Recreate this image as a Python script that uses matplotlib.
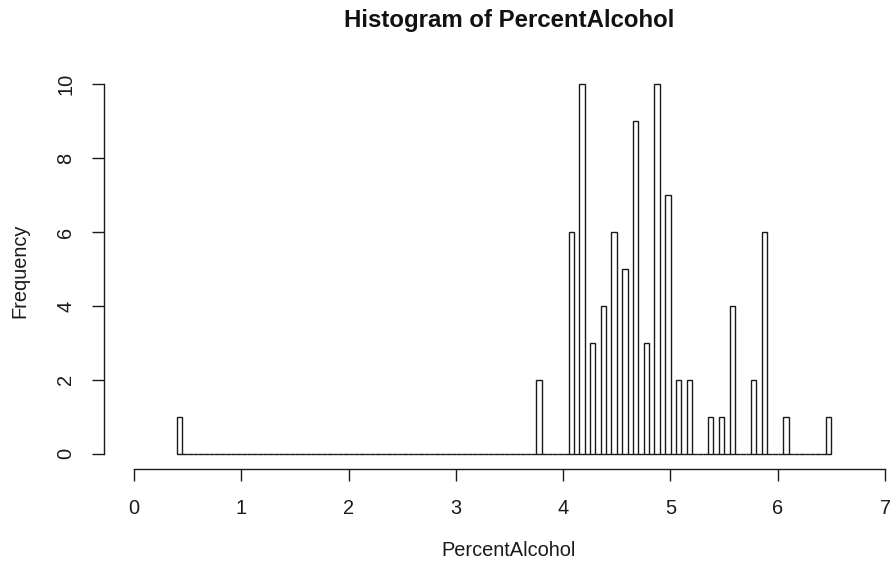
import numpy as np
import matplotlib
matplotlib.use("Agg")
import matplotlib.pyplot as plt

plt.rcParams['font.family'] = ['Liberation Sans', 'DejaVu Sans']

# Histogram breaks (bin width 0.05 from 0.40 to 6.50)
break_lo = 0.40
break_hi = 6.50
bin_width = 0.05
# Non-empty bins: left edge and count
bin_starts = [0.40, 3.75, 4.05, 4.15, 4.25, 4.35, 4.45, 4.55, 4.65, 4.75,
              4.85, 4.95, 5.05, 5.15, 5.35, 5.45, 5.55, 5.75, 5.85, 6.05, 6.45]
counts = [1, 2, 6, 10, 3, 4, 6, 5, 9, 3,
          10, 7, 2, 2, 1, 1, 4, 2, 6, 1, 1]
x_ticks = [0, 1, 2, 3, 4, 5, 6, 7]
y_ticks = [0, 2, 4, 6, 8, 10]

n_bins = int(round((break_hi - break_lo) / bin_width))
edges = break_lo + bin_width * np.arange(n_bins)
heights = np.zeros(n_bins)
for s, c in zip(bin_starts, counts):
    heights[int(round((s - break_lo) / bin_width))] = c

W, H = 890, 568
fig = plt.figure(figsize=(W / 100, H / 100), dpi=100)
L, R, T, B = 104, 890, 69.5, 468.5
ax = fig.add_axes([L / W, 1 - B / H, (R - L) / W, (B - T) / H])

ax.bar(edges, heights, width=bin_width, align='edge', fill=False,
       edgecolor='#1a1a1a', linewidth=1.0)

px_per_unit = 107.3
x0_px = 134
ax.set_xlim((L - x0_px) / px_per_unit, (R - x0_px) / px_per_unit)
ax.set_ylim(-0.4, 10.4)

for s in ['top', 'right']:
    ax.spines[s].set_visible(False)
ax.spines['left'].set_bounds(0, 10)
ax.spines['bottom'].set_bounds(0, 7)
for s in ['left', 'bottom']:
    ax.spines[s].set_linewidth(1.0)
    ax.spines[s].set_color('#1a1a1a')

ax.set_xticks(x_ticks)
ax.set_yticks(y_ticks)
ax.tick_params(axis='both', length=8.6, width=1.0, color='#1a1a1a',
               labelsize=14.4, labelcolor='#1a1a1a')
ax.tick_params(axis='x', pad=13)
ax.tick_params(axis='y', pad=12.2)
for lab in ax.get_yticklabels():
    lab.set_rotation(90)
    lab.set_verticalalignment('center')
    lab.set_horizontalalignment('right')

fig.text(509 / W, 1 - 21 / H, 'Histogram of PercentAlcohol', ha='center',
         va='center', fontsize=17.3, fontweight='bold', color='#111111')
fig.text(509 / W, 1 - 551 / H, 'PercentAlcohol', ha='center', va='center',
         fontsize=14.4, color='#1a1a1a')
fig.text(20 / W, 1 - 271 / H, 'Frequency', ha='center', va='center',
         rotation=90, fontsize=14.4, color='#1a1a1a')

fig.savefig('out.png', dpi=100)
